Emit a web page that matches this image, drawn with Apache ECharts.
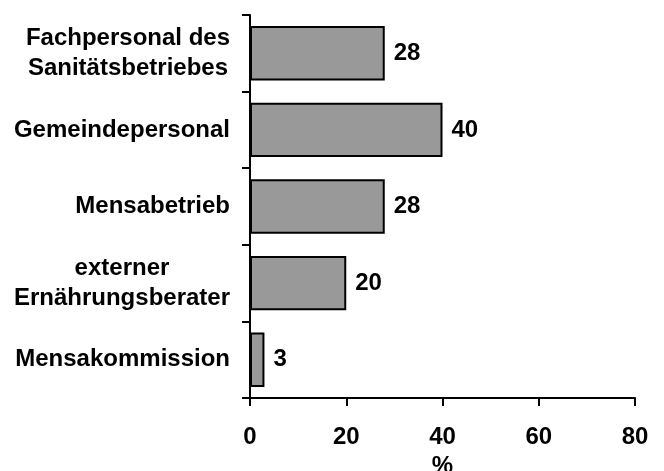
<!DOCTYPE html>
<html><head><meta charset="utf-8">
<script src="https://cdn.jsdelivr.net/npm/echarts@6/dist/echarts.min.js"></script>
<style>html,body{margin:0;padding:0;background:#fff}#c{width:664px;height:471px}</style>
</head><body><div id="c"></div>
<script>
const categories = ['Fachpersonal des\nSanitätsbetriebes', 'Gemeindepersonal', 'Mensabetrieb', 'externer\nErnährungsberater', 'Mensakommission'];
const values = [28, 40, 28, 20, 3];
const xTicks = [0, 20, 40, 60, 80];

const FONT = '"Liberation Sans", Arial, sans-serif';
const FS = 24;
const chart = echarts.init(document.getElementById('c'));
chart.setOption({
  animation: false,
  backgroundColor: '#ffffff',
  grid: { left: 250, right: 29, top: 15, bottom: 73, containLabel: false, outerBoundsMode: 'none' },
  xAxis: {
    type: 'value', min: xTicks[0], max: xTicks[xTicks.length - 1], interval: 20,
    name: '%', nameLocation: 'middle', nameGap: 51,
    nameTextStyle: { fontFamily: FONT, fontWeight: 'bold', fontSize: FS, color: '#000' },
    axisLine: { show: true, lineStyle: { color: '#000', width: 2 } },
    axisTick: { show: true, length: 8, lineStyle: { color: '#000', width: 2 } },
    axisLabel: { margin: 27, fontFamily: FONT, fontWeight: 'bold', fontSize: FS, color: '#000' },
    splitLine: { show: false }
  },
  yAxis: {
    type: 'category', data: categories, inverse: true,
    axisLine: { show: true, lineStyle: { color: '#000', width: 2 } },
    axisTick: { show: true, length: 8, lineStyle: { color: '#000', width: 2 } },
    axisLabel: {
      margin: 20, align: 'right', color: '#000',
      fontFamily: FONT, fontWeight: 'bold', fontSize: FS, lineHeight: 30,
      formatter: function (v) { return v.split('\n').map(s => '{c|' + s + '}').join('\n'); },
      rich: { c: { align: 'center', fontFamily: FONT, fontWeight: 'bold', fontSize: FS, lineHeight: 30, color: '#000' } }
    }
  },
  series: [{
    type: 'bar', data: values, barWidth: '71%',
    itemStyle: { color: '#999999', borderColor: '#000', borderWidth: 2 },
    label: { show: true, position: 'right', distance: 9, fontFamily: FONT, fontWeight: 'bold', fontSize: FS, color: '#000' }
  }]
});
</script></body></html>
